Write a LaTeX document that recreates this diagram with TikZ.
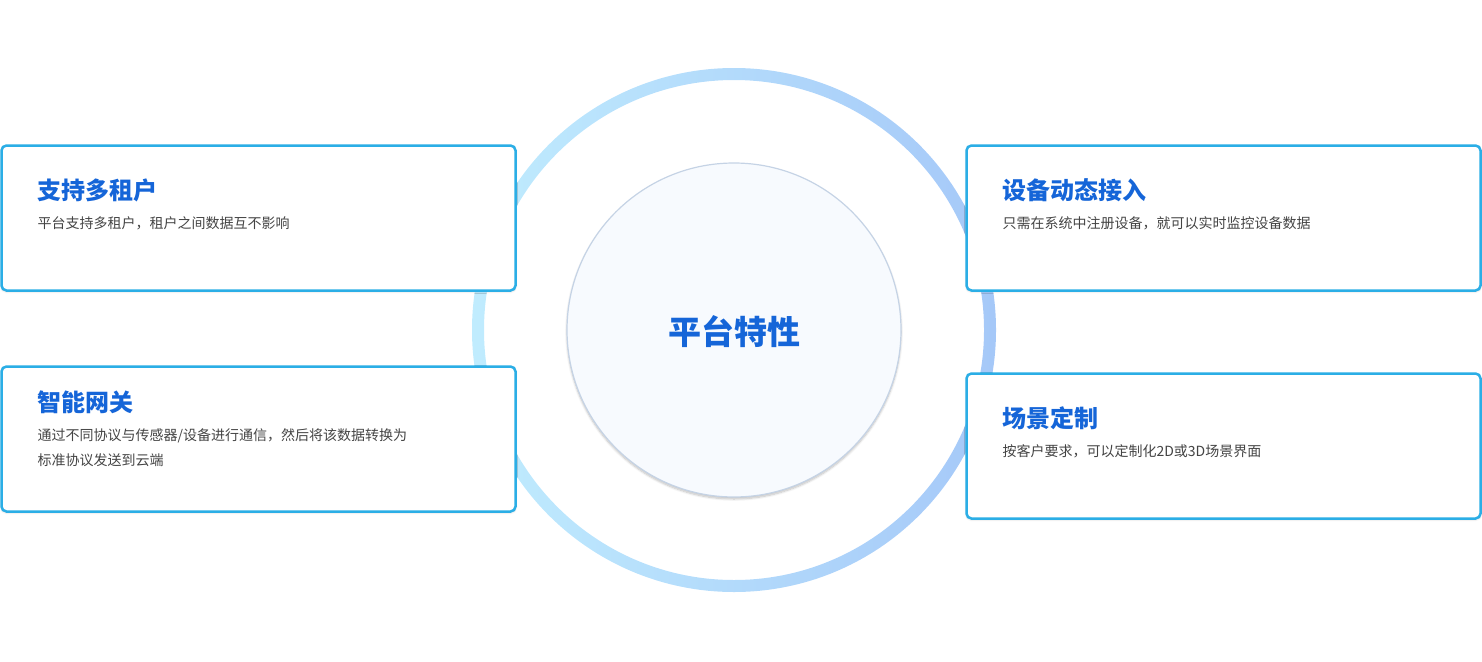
\documentclass[tikz,border=0pt]{standalone}
\usepackage{fontspec}
\setmainfont{Noto Sans CJK SC}
\usetikzlibrary{shadows.blur}
\definecolor{ttl}{HTML}{1565D8}
\definecolor{bdr}{HTML}{2BAEE6}
\definecolor{dsc}{HTML}{444444}
\tikzset{
  card/.style={draw=bdr,line width=2.5pt,rounded corners=5pt,fill=white,blur shadow={shadow blur steps=6,shadow xshift=0pt,shadow yshift=-1pt,shadow opacity=20}},
  ttlt/.style={anchor=west,text=ttl,font=\bfseries\fontsize{24}{26}\selectfont},
  dsct/.style={anchor=north west,text=dsc,font=\fontsize{14}{25}\selectfont,align=left}
}
\begin{document}
\begin{tikzpicture}[x=1pt,y=-1pt]
\useasboundingbox (0,0) rectangle (1482,661);
\shade[even odd rule,shading angle=45,left color={rgb,255:red,192;green,236;blue,254},right color={rgb,255:red,165;green,200;blue,248}] (734,330) circle (262) (734,330) circle (250);
\node[circle,minimum size=334pt,draw={rgb,255:red,197;green,211;blue,229},line width=1.2pt,fill={rgb,255:red,247;green,250;blue,254},blur shadow={shadow blur steps=8,shadow xshift=0pt,shadow yshift=-2pt,shadow opacity=25}] (c) at (734,330) {};
\node[text=ttl,font=\bfseries\fontsize{33}{36}\selectfont] (ct) at (734,332) {平台特性};
\node[card,minimum width=514pt,minimum height=145pt] (b1) at (258.5,218) {};
\node[card,minimum width=514pt,minimum height=145pt] (b2) at (258.5,439) {};
\node[card,minimum width=514pt,minimum height=145pt] (b3) at (1223.5,218) {};
\node[card,minimum width=514pt,minimum height=145pt] (b4) at (1223.5,446) {};
\node[ttlt] (t1) at (34,190) {支持多租户};
\node[dsct] (d1) at (34,213) {平台支持多租户，租户之间数据互不影响};
\node[ttlt] (t2) at (34,402) {智能网关};
\node[dsct] (d2) at (34,425) {通过不同协议与传感器/设备进行通信，然后将该数据转换为\\标准协议发送到云端};
\node[ttlt] (t3) at (999,190) {设备动态接入};
\node[dsct] (d3) at (999,213) {只需在系统中注册设备，就可以实时监控设备数据};
\node[ttlt] (t4) at (999,418) {场景定制};
\node[dsct] (d4) at (999,441) {按客户要求，可以定制化2D或3D场景界面};
\end{tikzpicture}
\end{document}
